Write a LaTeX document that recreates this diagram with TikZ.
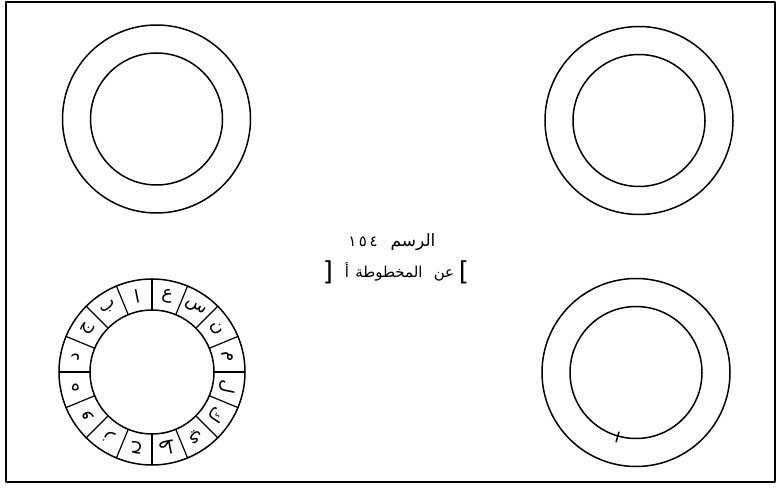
\documentclass[tikz,border=0pt]{standalone}
\usepackage{fontspec}
\newfontfamily\arabicfont[Script=Arabic]{DejaVu Sans}
\begin{document}
\begin{tikzpicture}[x=1pt, y=1pt, line join=round, line cap=round, font=\arabicfont]
	\tikzset{declare function={ro=94;ri=66;rb=93;rj=62;rm=77.5;},
		word/.style={anchor=base, inner sep=0pt, font=\arabicfont\fontsize{#1}{#1}\selectfont},
		word/.default=15}
	\useasboundingbox (0,0) rectangle (777,493);
	\draw [line width=1.2pt] (6,11) rectangle (775,491);
	\path (156.5,374) coordinate (TL)
		(639,372.5) coordinate (TR)
		(636,120.5) coordinate (BR)
		(152,121) coordinate (BL);
	\foreach \c in {TL,TR,BR}{
		\draw [line width=1.5pt] (\c) circle (ro) (\c) circle (ri);
	}
	\draw [line width=1.5pt] (BL) circle (rb) (BL) circle (rj);
	\foreach \g in {0,22.5,...,337.5}{
		\draw [line width=1.2pt] (BL)+(\g:rj)--+(\g:rb);
	}
	\foreach \l [count=\i from 0] in {ا,ب,ج,د,ه,و,ز,ح,ط,ي,ك,ل,م,ن,س,ع}{
		\path (BL)++({101.25+\i*22.5}:rm) node [rotate={11.25+\i*22.5}, font=\arabicfont\fontsize{18}{18}\selectfont] (g\i) {\l};
	}
	\draw [line width=1.5pt] (BR)+(254:62)--+(254:72);
	% caption, one node per word
	\node [word] (num) at (363,246) {١\,٥\,٤};
	\node [word=17] (fig) at (413,246) {الرسم};
	\node [word=26] (lb) at (328,212) {[};
	\node [word] (alif) at (347,215) {أ};
	\node [word] (ms) at (389,215) {المخطوطة};
	\node [word] (an) at (444,215) {عن};
	\node [word=26] (rbr) at (464,212) {]};
\end{tikzpicture}
\end{document}
